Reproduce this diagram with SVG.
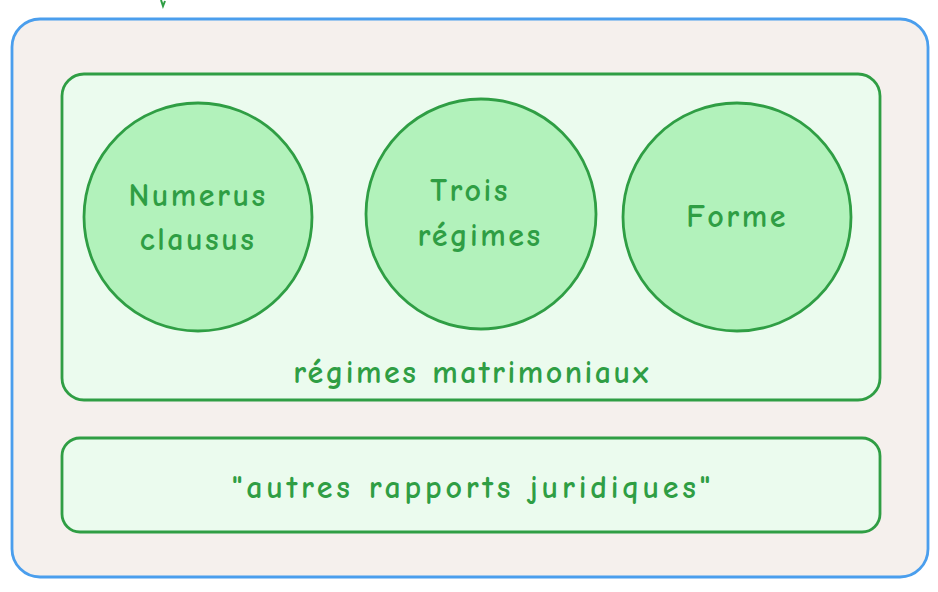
<svg xmlns="http://www.w3.org/2000/svg" width="938" height="592" viewBox="0 0 938 592">
<style>
.t{font-family:"Comic Neue","Open Sans","Liberation Sans",sans-serif;fill:#2f9e44;text-anchor:middle;font-size:32px;font-weight:bold;letter-spacing:2.5px}
.c{fill:#b2f2bb;stroke:#2f9e44;stroke-width:2.8}
.r{fill:#ebfbee;stroke:#2f9e44;stroke-width:2.8}
</style>
<rect width="938" height="592" fill="#ffffff"/>
<g id="stub"><path d="M161 0 L163 6 L165 1" fill="none" stroke="#2f9e44" stroke-width="2"/></g>
<g id="outer"><rect x="12" y="19" width="916" height="558" rx="28" fill="#f5f0ed" stroke="#4a9eed" stroke-width="2.8"/></g>
<g id="regimes"><rect x="62" y="74" width="818" height="326" rx="22" class="r"/>
<text class="t" x="472" y="383">régimes matrimoniaux</text></g>
<g id="numerus"><circle cx="198" cy="217" r="114" class="c"/>
<text class="t" x="198" y="206">Numerus</text><text class="t" x="198" y="250">clausus</text></g>
<g id="trois"><circle cx="481" cy="214" r="115" class="c"/>
<text class="t" x="470" y="201">Trois</text><text class="t" x="480" y="246">régimes</text></g>
<g id="forme"><circle cx="737" cy="217" r="114" class="c"/>
<text class="t" x="737" y="227">Forme</text></g>
<g id="autres"><rect x="62" y="438" width="818" height="94" rx="18" class="r"/>
<text class="t" x="473" y="498" style="letter-spacing:3.8px">"autres rapports juridiques"</text></g>
<g id="connectors"></g>
</svg>
